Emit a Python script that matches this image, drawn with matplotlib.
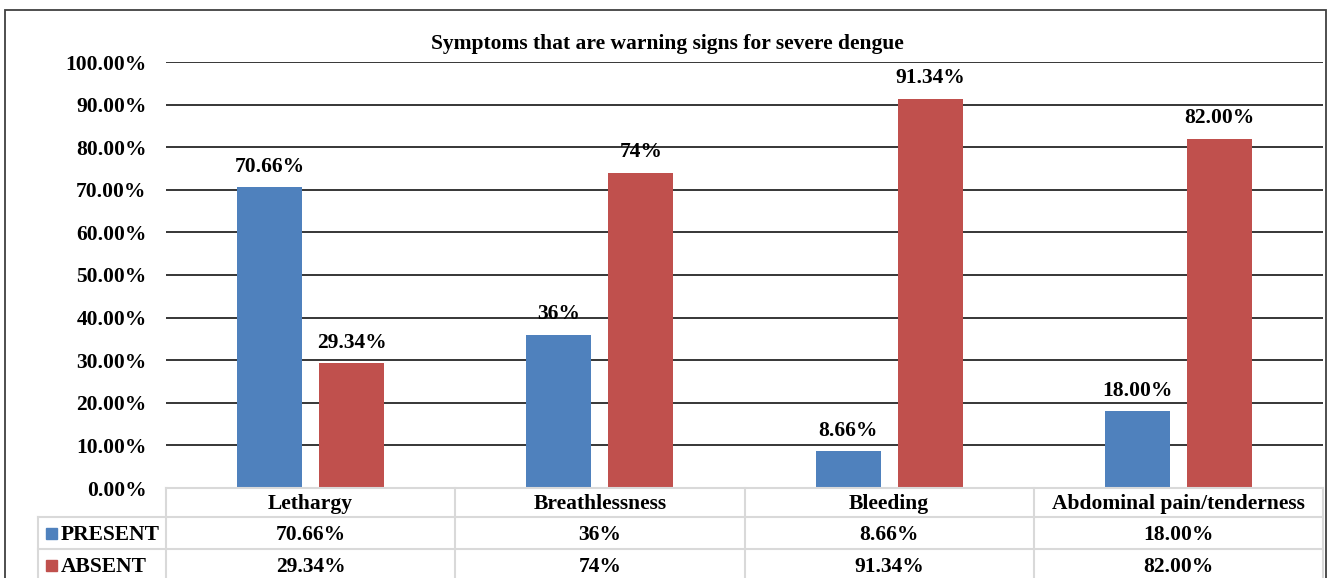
import matplotlib.pyplot as plt
import matplotlib.transforms as mtransforms
from matplotlib.patches import Rectangle
import numpy as np

# Data
categories = ['Lethargy', 'Breathlessness', 'Bleeding', 'Abdominal pain/tenderness']
present = [0.7066, 0.36, 0.0866, 0.18]
absent = [0.2934, 0.74, 0.9134, 0.82]
present_labels = ['70.66%', '36%', '8.66%', '18.00%']
absent_labels = ['29.34%', '74%', '91.34%', '82.00%']
series_names = ['PRESENT', 'ABSENT']

blue = '#4F81BD'
red = '#C0504D'
grid_gray = '#D9D9D9'
fs = 15.5

plt.rcParams['font.family'] = ['Liberation Serif', 'DejaVu Serif']
plt.rcParams['font.weight'] = 'bold'

W, H = 1335, 578
fig = plt.figure(figsize=(W / 100, H / 100), dpi=100)


def fx(px):
    return px / W


def fy(py):
    return 1 - py / H


# Plot area
ax = fig.add_axes([fx(166), fy(488), fx(1323) - fx(166), fy(62) - fy(488)])

x = np.arange(len(categories))
width = 0.2245
offset = 0.1416

b1 = ax.bar(x - offset, present, width, color=blue, zorder=3)
b2 = ax.bar(x + offset, absent, width, color=red, zorder=3)

for bars, labels in [(b1, present_labels), (b2, absent_labels)]:
    for rect, lab in zip(bars, labels):
        ax.annotate(lab, (rect.get_x() + rect.get_width() / 2, rect.get_height()),
                    xytext=(0, 7.5), textcoords='offset points',
                    ha='center', va='bottom', fontsize=fs, fontweight='bold')

ax.set_xlim(-0.5, len(categories) - 0.5)
ax.set_ylim(0, 1.0)
ax.set_yticks(np.arange(0, 1.01, 0.1))
ax.set_yticklabels(['{:.2f}%'.format(v * 100) for v in np.arange(0, 1.01, 0.1)],
                   fontsize=fs, fontweight='bold')
ax.tick_params(axis='y', length=0, pad=14)
ax.set_xticks([])
for s in ax.spines.values():
    s.set_visible(False)
for v in np.arange(0.1, 1.01, 0.1):
    ax.axhline(v, color='black', lw=1.1, zorder=1)

# Title
fig.text(fx(667), fy(44), 'Symptoms that are warning signs for severe dengue',
         ha='center', va='center', fontsize=fs, fontweight='bold')

# Data table below the chart
tr = mtransforms.blended_transform_factory(ax.transData, fig.transFigure)
left_edge = -0.5 - (166 - 38) / 289.5
row_y = [fy(488), fy(517), fy(549), fy(585)]
col_x = [-0.5 + i for i in range(len(categories) + 1)]

# horizontal lines
fig.add_artist(plt.Line2D([col_x[0], col_x[-1]], [row_y[0], row_y[0]],
                          transform=tr, color=grid_gray, lw=1.5))
for yy in row_y[1:3]:
    fig.add_artist(plt.Line2D([left_edge, col_x[-1]], [yy, yy],
                              transform=tr, color=grid_gray, lw=1.5))
# vertical lines
for xx in col_x:
    fig.add_artist(plt.Line2D([xx, xx], [row_y[0], row_y[-1]],
                              transform=tr, color=grid_gray, lw=1.5))
fig.add_artist(plt.Line2D([left_edge, left_edge], [row_y[1], row_y[-1]],
                          transform=tr, color=grid_gray, lw=1.5))

# header row
for i, cat in enumerate(categories):
    fig.text(x[i], fy(504), cat, transform=tr,
             ha='center', va='center', fontsize=fs, fontweight='bold')

# value rows
row_centers = [fy(535), fy(567)]
for r, (name, labels, col) in enumerate(zip(series_names, [present_labels, absent_labels], [blue, red])):
    yc = row_centers[r]
    for i, lab in enumerate(labels):
        fig.text(x[i], yc, lab, transform=tr, ha='center', va='center',
                 fontsize=fs, fontweight='bold')
    fig.add_artist(Rectangle((fx(46), yc - 4 / H), 11 / W, 11 / H,
                             transform=fig.transFigure, color=col))
    fig.text(fx(61), yc, name, ha='left', va='center', fontsize=fs, fontweight='bold')

# Chart border
fig.add_artist(Rectangle((fx(5), fy(590)), fx(1326) - fx(5), fy(10) - fy(590),
                         transform=fig.transFigure, fill=False,
                         edgecolor='#404040', lw=1.3))

fig.savefig('out.png', dpi=100)
